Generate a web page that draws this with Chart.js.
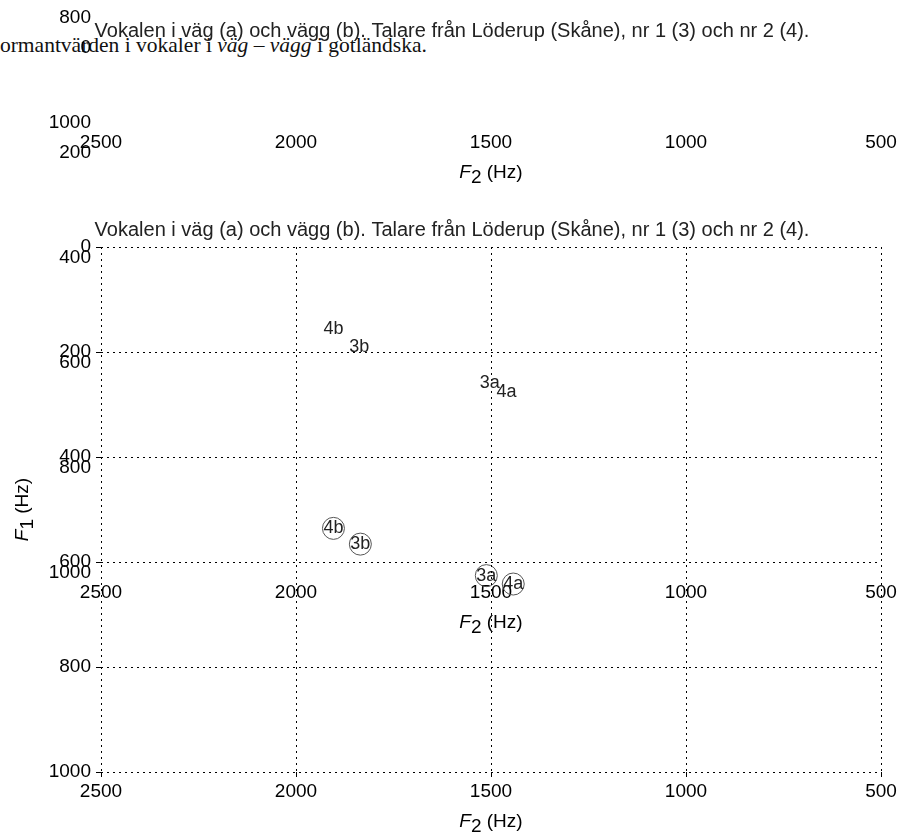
<!DOCTYPE html>
<html>
<head>
<meta charset="utf-8">
<script src="https://cdn.jsdelivr.net/npm/chart.js@4.4.1/dist/chart.umd.min.js"></script>
<style>
  html, body { margin: 0; padding: 0; background: #fff; }
  #stage { position: relative; width: 904px; height: 834px; overflow: hidden; }
  #stage canvas { position: absolute; left: 0; }
  #caption { position: absolute; left: -12px; top: 35px; font: 21.5px/21px "Liberation Serif", "Times New Roman", serif; color: #111; white-space: nowrap; }
</style>
</head>
<body>
<div id="stage">
  <div id="caption">Formantvärden i vokaler i <i>väg – vägg</i> i gotländska.</div>
  <canvas id="layerC" width="904" height="834" style="top:-649px"></canvas>
  <canvas id="layerB" width="904" height="834" style="top:-199px"></canvas>
  <canvas id="layerA" width="904" height="834" style="top:0"></canvas>
</div>
<script>
const titleText = 'Vokalen i väg (a) och vägg (b). Talare från Löderup (Skåne), nr 1 (3) och nr 2 (4).';
const xTicks = [2500, 2000, 1500, 1000, 500];
const yTicks = [0, 200, 400, 600, 800, 1000];
const pointLabels = ['4b', '3b', '3a', '4a'];
// plain text labels (main axes)
const f2Text = [1904, 1838, 1503, 1460];
const f1Text = [157, 191, 259, 276];
// circled labels (shifted copy of the axes)
const f2Ring = [1904, 1835, 1512, 1443];
const f1Ring = [915, 945, 1005, 1021];

const SANS = '"Liberation Sans", Arial, sans-serif';

// labels drawn at the scaled point positions, optionally with a ring
const pointText = {
  id: 'pointText',
  afterDatasetsDraw(chart) {
    const ctx = chart.ctx;
    chart.data.datasets.forEach((ds, i) => {
      if (!ds.texts) return;
      const meta = chart.getDatasetMeta(i);
      ctx.save();
      meta.data.forEach((pt, j) => {
        if (ds.ring) {
          ctx.beginPath();
          ctx.arc(pt.x, pt.y, ds.ring, 0, Math.PI * 2);
          ctx.strokeStyle = '#555';
          ctx.lineWidth = 1;
          ctx.stroke();
        }
        ctx.font = '18px ' + SANS;
        ctx.fillStyle = '#222';
        ctx.textAlign = 'center';
        ctx.textBaseline = 'middle';
        ctx.fillText(ds.texts[j], pt.x, pt.y);
      });
      ctx.restore();
    });
  }
};

function drawHzTitle(ctx, cx, y, sub) {
  const big = '19px ' + SANS;
  const it = 'italic ' + big;
  ctx.font = it;
  const wF = ctx.measureText('F').width;
  ctx.font = big;
  const wS = ctx.measureText(sub).width;
  const wH = ctx.measureText(' (Hz)').width;
  let x = cx - (wF + wS + wH) / 2;
  ctx.textAlign = 'left';
  ctx.font = it;
  ctx.fillText('F', x, y);
  x += wF;
  ctx.font = big;
  ctx.fillText(sub, x, y + 5);
  x += wS;
  ctx.fillText(' (Hz)', x, y);
}

const axisTitles = {
  id: 'axisTitles',
  afterDraw(chart, args, opts) {
    const { ctx, chartArea: a } = chart;
    ctx.save();
    ctx.fillStyle = '#000';
    ctx.textBaseline = 'alphabetic';
    if (opts.x) drawHzTitle(ctx, (a.left + a.right) / 2, a.bottom + 55, '2');
    if (opts.y) {
      ctx.translate(a.left - 73, (a.top + a.bottom) / 2);
      ctx.rotate(-Math.PI / 2);
      drawHzTitle(ctx, 0, 0, '1');
    }
    ctx.restore();
  }
};

function buildLayer(id, datasets, showGrid, yTitle) {
  const lineCol = showGrid ? '#000' : 'transparent';
  const tickFont = { family: SANS, size: 19 };
  return new Chart(document.getElementById(id), {
    type: 'scatter',
    data: { datasets: datasets },
    options: {
      responsive: false,
      animation: false,
      layout: { padding: { left: 0, right: 0, top: 218, bottom: 0 } },
      plugins: {
        legend: { display: false },
        tooltip: { enabled: false },
        title: {
          display: true,
          text: titleText,
          color: '#222',
          font: { family: SANS, size: 20, weight: 'normal', lineHeight: 1.2 },
          padding: { top: 0, bottom: 5 }
        },
        axisTitles: { x: true, y: yTitle }
      },
      scales: {
        x: {
          type: 'linear', reverse: true, min: 500, max: 2500,
          afterBuildTicks: s => { s.ticks = xTicks.map(v => ({ value: v })); },
          afterFit: s => { s.height = 62; },
          grid: { color: lineCol, lineWidth: 1, tickLength: 5, tickColor: lineCol, tickBorderDash: [] },
          border: { display: false, dash: [2, 4] },
          ticks: { color: '#000', font: tickFont, padding: 3, maxRotation: 0, callback: v => String(v) }
        },
        y: {
          type: 'linear', reverse: true, min: 0, max: 1000,
          afterBuildTicks: s => { s.ticks = yTicks.map(v => ({ value: v })); },
          afterFit: s => { s.width = 101; },
          grid: { color: lineCol, lineWidth: 1, tickLength: 5, tickColor: lineCol, tickBorderDash: [] },
          border: { display: false, dash: [2, 4] },
          ticks: { color: '#000', font: tickFont, padding: 5, callback: v => String(v) }
        },
        yR: {
          position: 'right', display: true,
          afterFit: s => { s.width = 23; },
          grid: { display: false },
          border: { display: false },
          ticks: { display: false }
        }
      }
    },
    plugins: [pointText, axisTitles]
  });
}

const textSet = {
  data: f2Text.map((x, i) => ({ x: x, y: f1Text[i] })),
  texts: pointLabels,
  pointRadius: 0,
  yAxisID: 'y'
};
const ringSet = {
  data: f2Ring.map((x, i) => ({ x: x, y: f1Ring[i] })),
  texts: pointLabels,
  ring: 11,
  pointRadius: 0,
  clip: false,
  yAxisID: 'y'
};

buildLayer('layerC', [], false, false);
buildLayer('layerB', [ringSet], false, false);
buildLayer('layerA', [textSet], true, true);
</script>
</body>
</html>
